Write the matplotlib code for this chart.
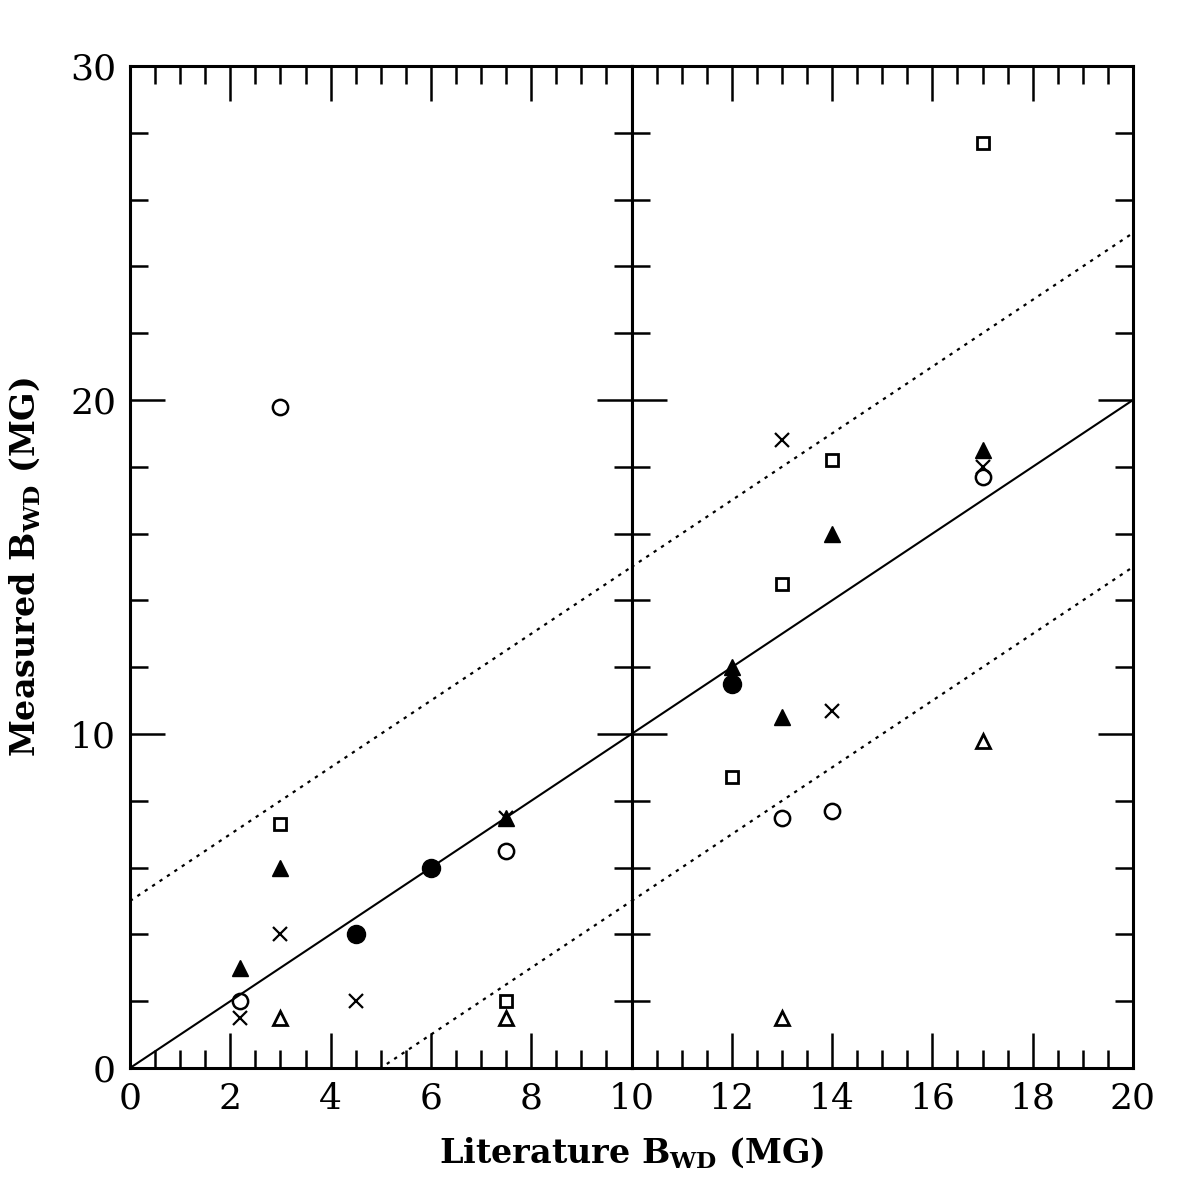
import matplotlib
matplotlib.use('Agg')
import matplotlib.pyplot as plt
import numpy as np

plt.rcParams['font.family'] = 'DejaVu Serif'
plt.rcParams['mathtext.fontset'] = 'custom'
plt.rcParams['mathtext.rm'] = 'DejaVu Serif:bold'
plt.rcParams['mathtext.bf'] = 'DejaVu Serif:bold'

# measured vs literature field strengths, grouped by plot symbol
open_sq_x = [3, 7.5, 12, 13, 14, 17]
open_sq_y = [7.3, 2.0, 8.7, 14.5, 18.2, 27.7]

fill_tri_x = [2.2, 3, 7.5, 12, 13, 14, 17]
fill_tri_y = [3.0, 6.0, 7.5, 12.0, 10.5, 16.0, 18.5]

cross_x = [2.2, 3, 4.5, 7.5, 13, 14, 17]
cross_y = [1.5, 4.0, 2.0, 7.5, 18.8, 10.7, 18.0]

open_circ_x = [2.2, 3, 7.5, 13, 14, 17]
open_circ_y = [2.0, 19.8, 6.5, 7.5, 7.7, 17.7]

fill_circ_x = [4.5, 6, 12]
fill_circ_y = [4.0, 6.0, 11.5]

open_tri_x = [3, 7.5, 13, 17]
open_tri_y = [1.5, 1.5, 1.5, 9.8]

fig = plt.figure(figsize=(11.96, 11.96), dpi=100)
x0, x1 = 130 / 1196, 1133 / 1196
y0, y1 = 1 - 1068 / 1196, 1 - 66 / 1196
w = (x1 - x0) / 2
ax1 = fig.add_axes([x0, y0, w, y1 - y0])
ax2 = fig.add_axes([x0 + w, y0, w, y1 - y0], sharey=ax1)

ranges = [(0, 10), (10, 20)]
for ax, (lo, hi) in zip([ax1, ax2], ranges):
    # one-to-one line and +/- 5 MG band
    xx = np.array([lo, hi])
    ax.plot(xx, xx, color='black', lw=1.5, zorder=1)
    ax.plot(xx, xx + 5, color='black', lw=1.6, ls=(0, (1.5, 2.5)), zorder=1)
    ax.plot(xx, xx - 5, color='black', lw=1.6, ls=(0, (1.5, 2.5)), zorder=1)

    def sel(xs, ys):
        xs = np.array(xs)
        ys = np.array(ys)
        m = (xs >= lo) & (xs <= hi)
        return xs[m], ys[m]

    a, b = sel(open_sq_x, open_sq_y)
    ax.plot(a, b, 's', ms=9, mfc='white', mec='black', mew=2, ls='none')
    a, b = sel(open_circ_x, open_circ_y)
    ax.plot(a, b, 'o', ms=11, mfc='none', mec='black', mew=1.8, ls='none')
    a, b = sel(open_tri_x, open_tri_y)
    ax.plot(a, b, '^', ms=10, mfc='white', mec='black', mew=2, ls='none')
    a, b = sel(fill_tri_x, fill_tri_y)
    ax.plot(a, b, '^', ms=11, color='black', ls='none')
    a, b = sel(fill_circ_x, fill_circ_y)
    ax.plot(a, b, 'o', ms=13, color='black', ls='none')
    a, b = sel(cross_x, cross_y)
    ax.plot(a, b, 'x', ms=10, color='black', mew=1.6, ls='none')

    ax.set_xlim(lo, hi)
    ax.set_ylim(0, 30)
    ax.set_xticks(np.arange(lo, hi + 0.1, 2))
    ax.set_xticks(np.arange(lo, hi + 0.1, 0.5), minor=True)
    ax.set_yticks([0, 10, 20, 30])
    ax.set_yticks(np.arange(0, 31, 2), minor=True)
    ax.tick_params(which='both', direction='in', top=True, right=True,
                   width=1.8, labelsize=26, pad=10)
    ax.tick_params(which='major', length=25)
    ax.tick_params(which='minor', length=13)
    for s in ax.spines.values():
        s.set_linewidth(2.2)

ax1.set_xticklabels(['0', '2', '4', '6', '8', ''])
ax2.tick_params(labelleft=False)

fig.text((x0 + x1) / 2, 1 - 1153 / 1196, r'Literature B$_{\mathrm{WD}}$ (MG)',
         ha='center', va='center', fontsize=24, fontweight='bold')
fig.text(25 / 1196, (y0 + y1) / 2, r'Measured B$_{\mathrm{WD}}$ (MG)',
         ha='center', va='center', rotation=90, fontsize=24, fontweight='bold')

fig.savefig('out.png', dpi=100)
